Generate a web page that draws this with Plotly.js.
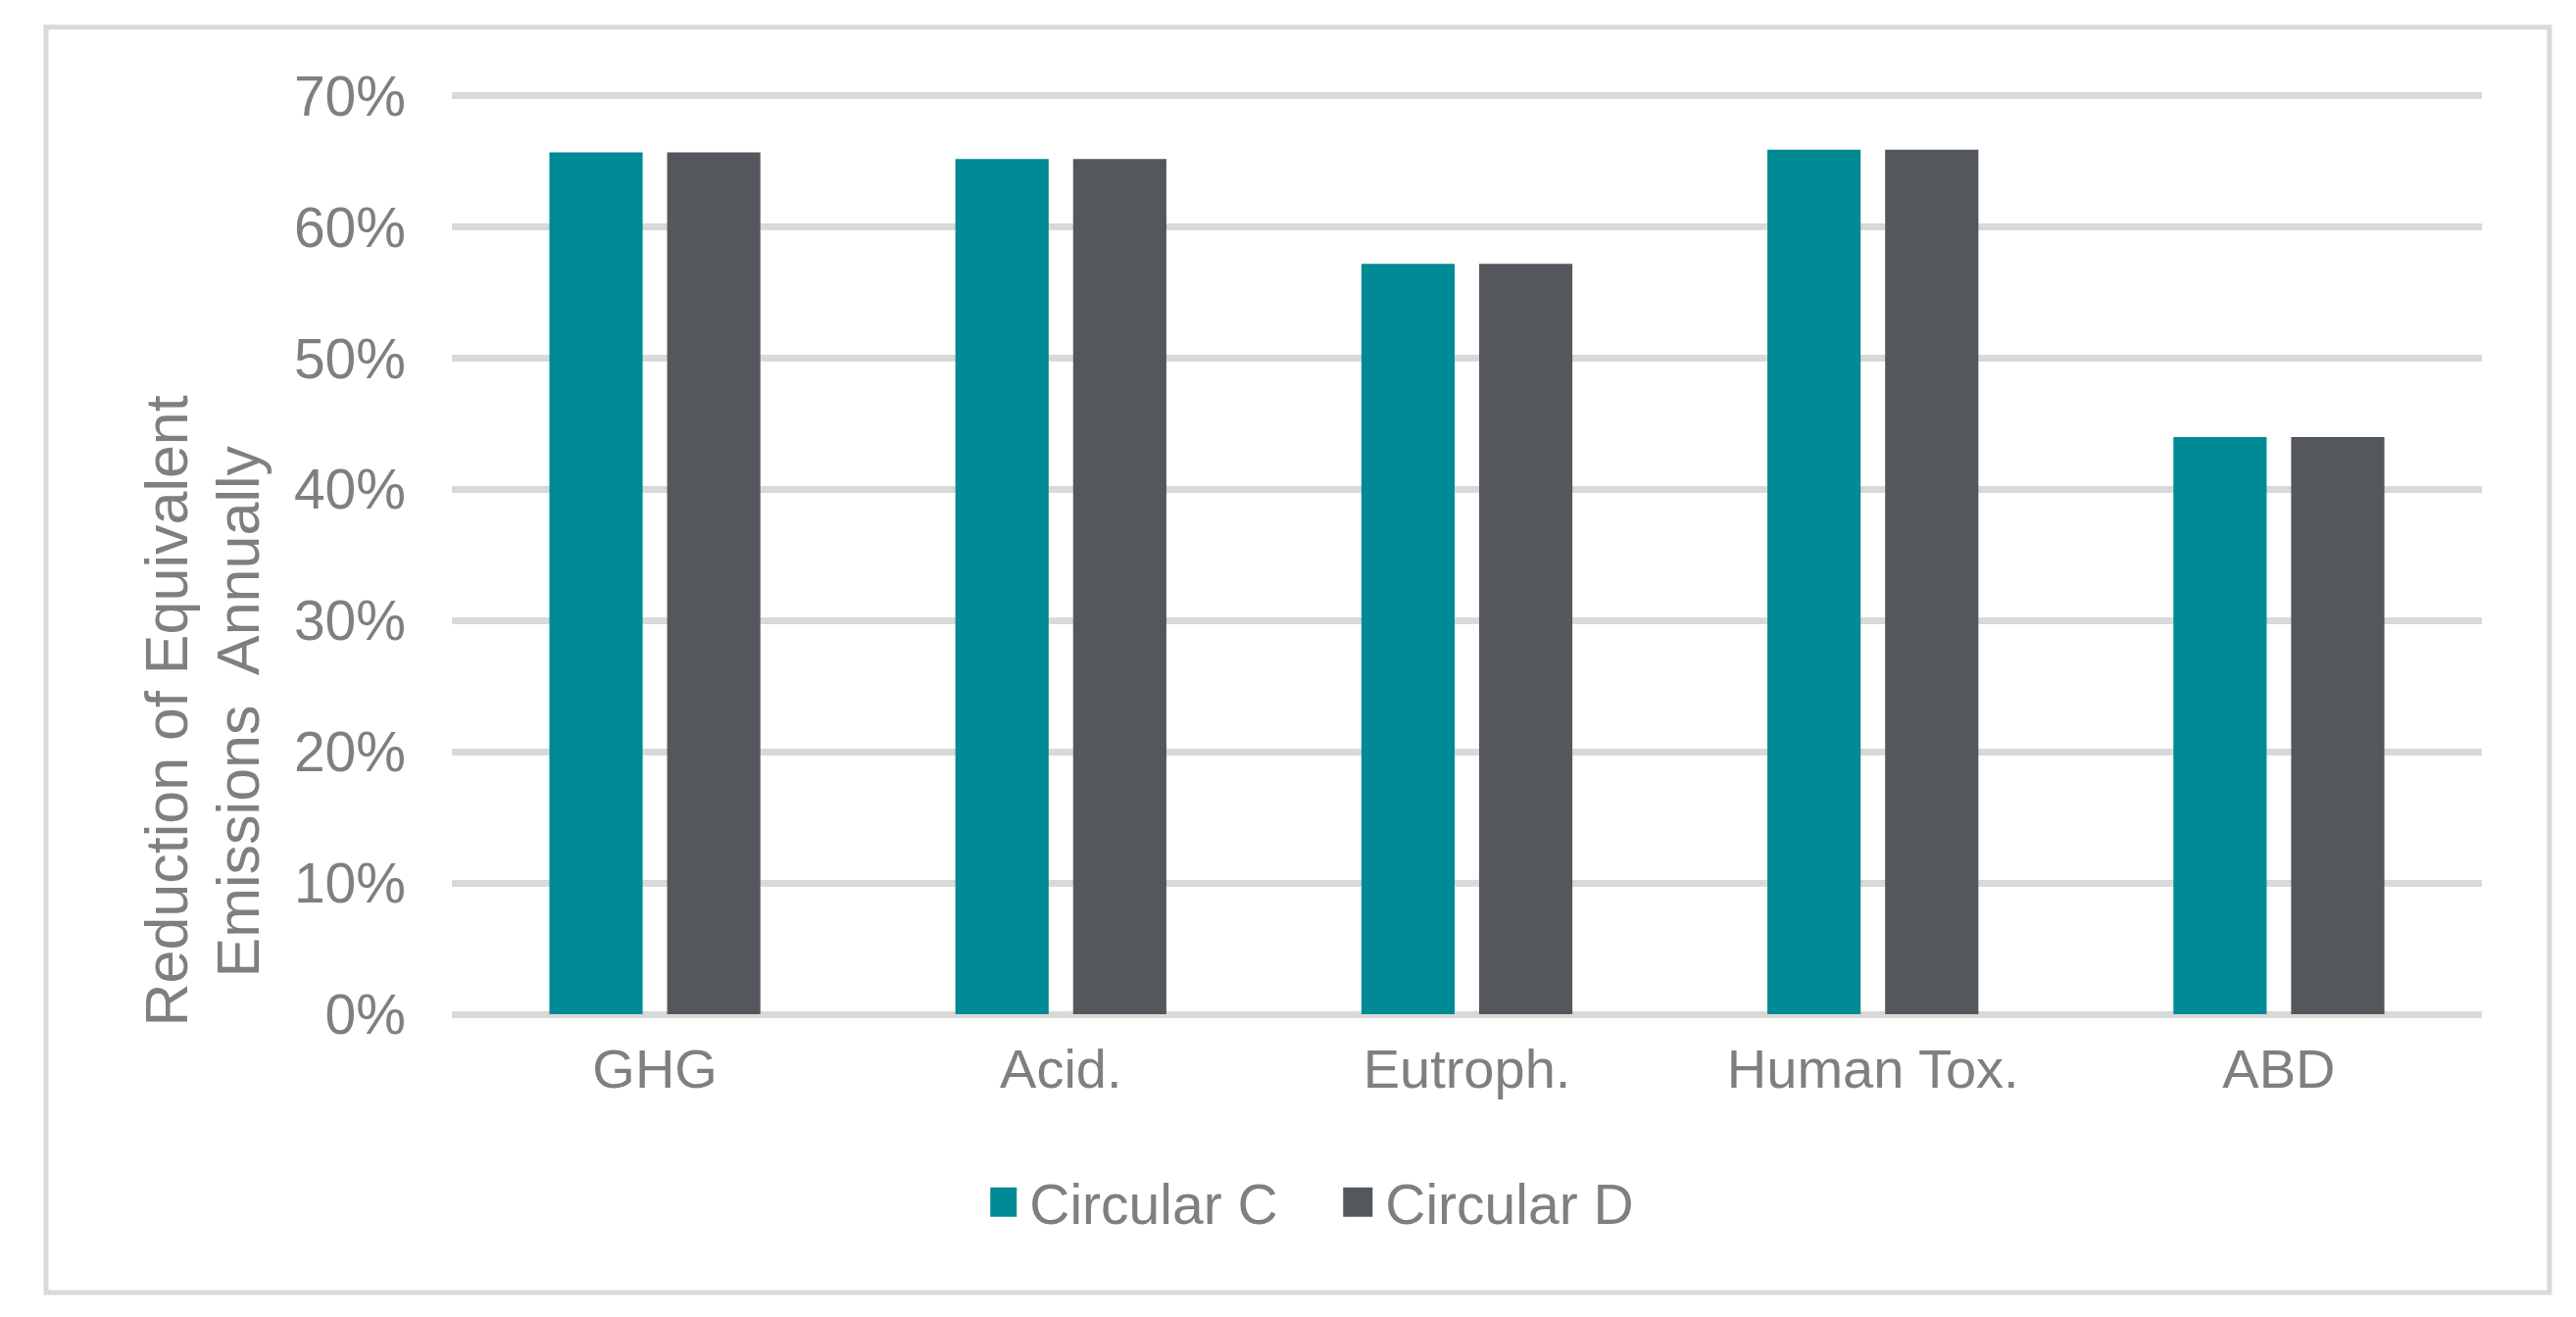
<!DOCTYPE html>
<html>
<head>
<meta charset="utf-8">
<script src="https://cdn.plot.ly/plotly-3.0.1.min.js"></script>
<style>
  html, body { margin: 0; padding: 0; background: #ffffff; }
  #chart { width: 2628px; height: 1344px; }
</style>
</head>
<body>
<div id="chart"></div>
<script>
// ---- data ----
const categories = ["GHG", "Acid.", "Eutroph.", "Human Tox.", "ABD"];
const circularC = [0.657, 0.652, 0.572, 0.659, 0.440];
const circularD = [0.657, 0.652, 0.572, 0.659, 0.440];
const seriesNames = ["Circular C", "Circular D"];
const yTickValues = [0, 0.1, 0.2, 0.3, 0.4, 0.5, 0.6, 0.7];
const yTitleLines = ["Reduction of Equivalent", "Emissions  Annually"];

const FONT = "Liberation Sans, Arial, Helvetica, sans-serif";
const TEXT = "#7f7f7f";
const GRID = "#d9d9d9";

const traces = [
  { type: "bar", name: seriesNames[0], x: categories, y: circularC,
    marker: { color: "#008a96" }, hoverinfo: "x+y" },
  { type: "bar", name: seriesNames[1], x: categories, y: circularD,
    marker: { color: "#54575c" }, hoverinfo: "x+y" }
];

// plot area: 0% line at y=1035, 70% line at y=98
const layout = {
  width: 2628, height: 1344,
  margin: { l: 461, r: 96, t: 93, b: 309 },
  paper_bgcolor: "#ffffff", plot_bgcolor: "#ffffff",
  font: { family: FONT, size: 56, color: TEXT },
  barmode: "group",
  bargap: 0.42,
  bargroupgap: 0.208,
  showlegend: true,
  legend: {
    orientation: "h", x: 0.4405, xanchor: "center", y: -0.204, yanchor: "middle",
    font: { family: FONT, size: 57, color: TEXT }, itemwidth: 30,
    entrywidth: 318, entrywidthmode: "pixels"
  },
  xaxis: {
    type: "category", showgrid: false, zeroline: false, showline: false,
    ticks: "", ticklabelstandoff: 18,
    tickfont: { family: FONT, size: 56, color: TEXT }
  },
  yaxis: {
    range: [0, 0.7037], tickvals: yTickValues, tickformat: ".0%",
    showgrid: true, gridcolor: GRID, gridwidth: 7,
    zeroline: true, zerolinecolor: GRID, zerolinewidth: 7,
    showline: false, ticks: "", ticklabelstandoff: 46,
    tickfont: { family: FONT, size: 57, color: TEXT }
  },
  annotations: [
    { xref: "paper", yref: "paper", x: -0.1405, y: 0.3285,
      xanchor: "center", yanchor: "middle", textangle: -90, showarrow: false,
      text: yTitleLines[0], font: { family: FONT, size: 61, color: TEXT } },
    { xref: "paper", yref: "paper", x: -0.1053, y: 0.3285,
      xanchor: "center", yanchor: "middle", textangle: -90, showarrow: false,
      text: yTitleLines[1], font: { family: FONT, size: 61, color: TEXT } }
  ],
  shapes: [{
    type: "rect", xref: "paper", yref: "paper",
    x0: -0.1999, x1: 1.0333, y0: -0.3015, y1: 1.0692,
    line: { color: GRID, width: 5 }, fillcolor: "rgba(0,0,0,0)", layer: "below"
  }]
};

Plotly.newPlot("chart", traces, layout, { displayModeBar: false, staticPlot: true }).then(function () {
  // enlarge the legend swatches to the reference's 30px squares (keep Plotly's own translate)
  document.querySelectorAll(".legend .legendpoints path").forEach(function (p) {
    p.setAttribute("d", "M7,15H-23V-15H7Z");
  });
});
</script>
</body>
</html>
